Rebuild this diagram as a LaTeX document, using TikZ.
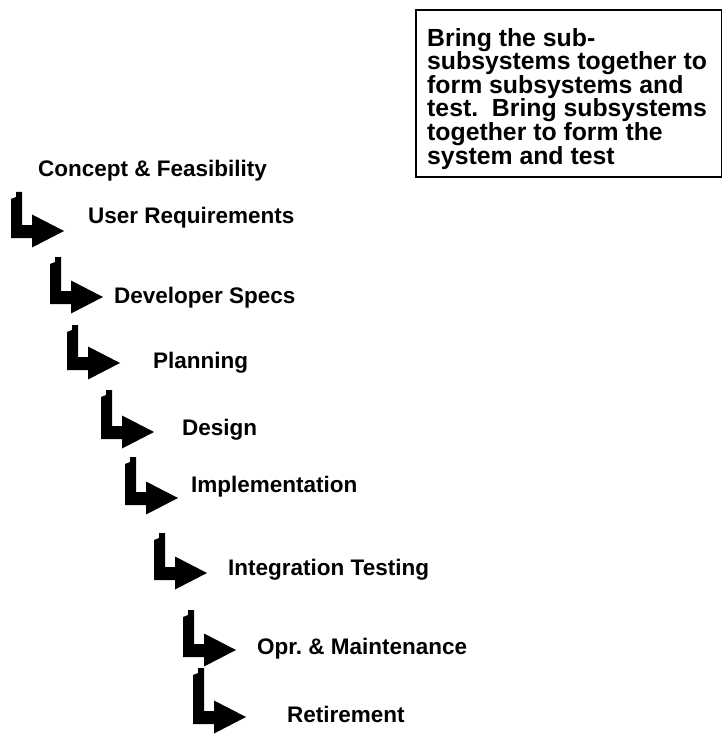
\documentclass[tikz,border=0pt]{standalone}
\usepackage{fontspec}
\setmainfont{Liberation Sans}
\frenchspacing
\tikzset{
  lbl/.style={anchor=base west, inner sep=0pt, font=\bfseries\fontsize{22.5}{27}\selectfont},
  bentshape/.style={fill=black, draw=none},
  notebox/.style={draw=black, line width=1.5pt},
  notetext/.style={anchor=north west, inner sep=0pt, align=left, font=\bfseries\fontsize{24.8}{23.6}\selectfont}
}
\newcommand\bentarr[3]{%
  \fill[bentshape, shift={(#1,#2)}] (-11,7) -- (-6,5) -- (-6,0) -- (0,0) -- (0,{#3-6}) -- (10,{#3-6}) -- (10,{#3-16.5}) -- (42,#3) -- (10,{#3+16.5}) -- (10,{#3+7}) -- (-11,{#3+7}) -- cycle;}
\begin{document}
\begin{tikzpicture}[x=1pt,y=-1pt]
\useasboundingbox (0,0) rectangle (723,735);
% note box
\draw[notebox] (416,10) rectangle (721.5,177);
\node[notetext] (note) at (427,28) {Bring the sub-\\subsystems together to\\form subsystems and\\test.\ \ Bring subsystems\\together to form the\\system and test};
% labels
\node[lbl] (concept) at (38,177) {Concept \& Feasibility};
\node[lbl] (userreq) at (88,223) {User Requirements};
\node[lbl] (devspec) at (114,303) {Developer Specs};
\node[lbl] (planning) at (153,368) {Planning};
\node[lbl] (design) at (182,435) {Design};
\node[lbl] (impl) at (191,492) {Implementation};
\node[lbl] (integ) at (228,575) {Integration Testing};
\node[lbl] (oprm) at (257,654) {Opr. \& Maintenance};
\node[lbl] (retire) at (287,722) {Retirement};
% bent arrows
\bentarr{22}{192}{39}
\bentarr{61}{257}{40}
\bentarr{78}{325}{38}
\bentarr{112}{390}{42}
\bentarr{136}{457}{41}
\bentarr{165}{533}{40}
\bentarr{194}{610}{40}
\bentarr{204}{668}{49}
\end{tikzpicture}
\end{document}
